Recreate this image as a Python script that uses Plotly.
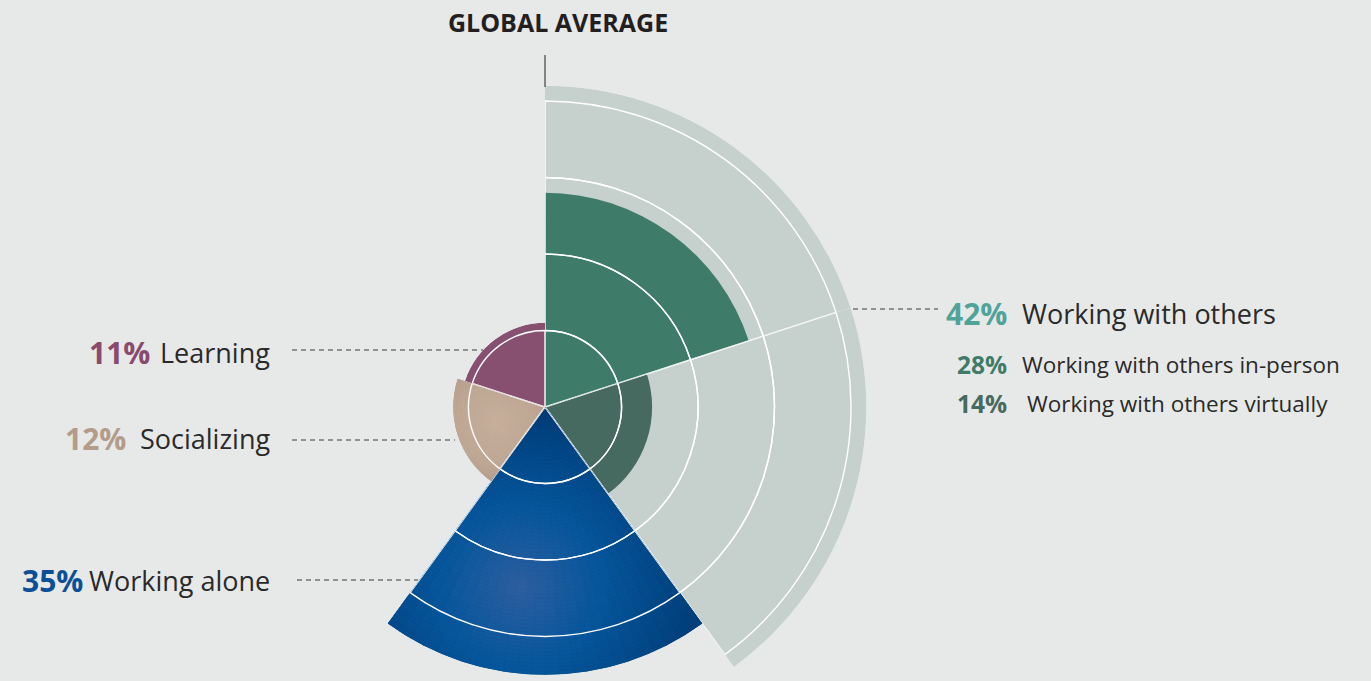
import math
import plotly.graph_objects as go

# ---------------- data ----------------
categories = ["Working with others in-person", "Working with others virtually",
              "Working alone", "Socializing", "Learning"]
shares = [28, 14, 35, 12, 11]
group_label = "Working with others"
group_share = 42
group_members = [0, 1]          # indices of categories belonging to the group
grid_step = 10                  # white guide arcs every 10 %

pct_labels = ["28%", "14%", "35%", "12%", "11%"]
group_pct_label = "42%"
title_text = "GLOBAL AVERAGE"

# ---------------- styles ----------------
fill_colors = ["#3f7b69", "#466a60", "#0b4f92", "#bda692", "#875070"]
pct_colors = ["#3f7b69", "#466a60", "#0b5096", "#b39c8a", "#8a4a6e"]
group_color = "#c6d0cc"
group_pct_color = "#4fa398"
bg = "#e7e9e8"
text_dark = "#2a2a2a"
FONT = "Open Sans"

W, H = 1371, 681
CX, CY = 545, 407        # pixel position of the pole
PX_PER_UNIT = 7.65       # pixels per percentage point

n = len(categories)
sector = 360 / n
thetas = [sector * i + sector / 2 for i in range(n)]


def hex2rgb(h):
    h = h.lstrip("#")
    return [int(h[i:i + 2], 16) for i in (0, 2, 4)]


def ramp(stops, t):
    t = max(0.0, min(1.0, t))
    for (t0, c0), (t1, c1) in zip(stops, stops[1:]):
        if t <= t1:
            f = (t - t0) / (t1 - t0) if t1 > t0 else 0
            a, b = hex2rgb(c0), hex2rgb(c1)
            return "rgb(%d,%d,%d)" % tuple(round(a[k] + (b[k] - a[k]) * f) for k in range(3))
    return "rgb(%d,%d,%d)" % tuple(hex2rgb(stops[-1][1]))


# soft radial shading (styling only) for some sectors:
# index -> (centre r fraction, centre angle offset deg, falloff px, colour stops)
shading = {
    2: (0.68, 8, 175, [(0, "#2e5f9f"), (0.45, "#07569c"), (1, "#013f7a")]),
    3: (0.55, 0, 70, [(0, "#c7af9c"), (0.6, "#bea794"), (1, "#b09a88")]),
}


def sector_bbox(s0, s1):
    """bounding box (unit radius, y up) of a counter-clockwise sector incl. pole"""
    angs = [s0, s1] + [k * 90 for k in range(-8, 9) if s0 < k * 90 < s1]
    xs = [0.0] + [math.cos(math.radians(a)) for a in angs]
    ys = [0.0] + [math.sin(math.radians(a)) for a in angs]
    return min(xs), min(ys), max(xs), max(ys)


fig = go.Figure()
layout_polars = {}

for i in range(n):
    sp = "polar" if i == 0 else "polar%d" % (i + 1)
    in_group = i in group_members
    top = max(shares[i], group_share if in_group else 0)
    rad = top * PX_PER_UNIT
    c0, c1 = thetas[i] - sector / 2, thetas[i] + sector / 2   # compass degrees
    s0, s1 = 90 - c1, 90 - c0                                 # plotly sector
    x0, y0, x1, y1 = sector_bbox(s0, s1)
    layout_polars[sp] = dict(
        sector=[s0, s1],
        domain=dict(x=[(CX + rad * x0) / W, (CX + rad * x1) / W],
                    y=[(H - CY + rad * y0) / H, (H - CY + rad * y1) / H]),
        bgcolor="rgba(0,0,0,0)",
        bargap=0,
        barmode="overlay",
        radialaxis=dict(range=[0, top], visible=False, showgrid=False),
        angularaxis=dict(rotation=90, direction="clockwise", visible=False,
                         showgrid=False),
    )

    # group background
    if in_group:
        fig.add_trace(go.Barpolar(
            r=[group_share], theta=[thetas[i]], width=[sector], subplot=sp,
            marker=dict(color=group_color, line=dict(width=0)),
            text=[group_label], hoverinfo="text", showlegend=False))

    # category sector
    fig.add_trace(go.Barpolar(
        r=[shares[i]], theta=[thetas[i]], width=[sector], subplot=sp,
        marker=dict(color=fill_colors[i], line=dict(width=0)),
        text=[categories[i]], hoverinfo="text", showlegend=False))

    # soft shading cells (styling)
    if i in shading:
        rf, dth, fall, stops = shading[i]
        val = shares[i]
        gc_r = val * rf * PX_PER_UNIT
        gc_a = math.radians(thetas[i] + dth)
        gx, gy = gc_r * math.sin(gc_a), gc_r * math.cos(gc_a)
        nth, dr = 24, 0.5
        dth_cell = sector / nth
        nr = math.ceil(val / dr)
        sr, sb, st, sc = [], [], [], []
        for a in range(nth):
            th = c0 + dth_cell * (a + 0.5)
            for b in range(nr):
                r0 = b * dr
                r1 = min(val, r0 + dr)
                rm = (r0 + r1) / 2 * PX_PER_UNIT
                x, y = rm * math.sin(math.radians(th)), rm * math.cos(math.radians(th))
                d = math.hypot(x - gx, y - gy) / fall
                sr.append(r1 - r0)
                sb.append(r0)
                st.append(th)
                sc.append(ramp(stops, d))
        fig.add_trace(go.Barpolar(
            r=sr, base=sb, theta=st, width=[dth_cell] * len(sr), subplot=sp,
            marker=dict(color=sc, line=dict(color=sc, width=0.8)),
            hoverinfo="skip", showlegend=False))

    # white guide arcs: outline-only cells
    k_max = int(top // grid_step)
    if k_max > 0:
        fig.add_trace(go.Barpolar(
            r=[grid_step] * k_max, base=[k * grid_step for k in range(k_max)],
            theta=[thetas[i]] * k_max, width=[sector] * k_max, subplot=sp,
            marker=dict(color="rgba(0,0,0,0)", line=dict(color="white", width=1.4)),
            hoverinfo="skip", showlegend=False))

    # helper so that outline strokes on the sector edges are not clipped
    fig.add_trace(go.Scatterpolar(r=[0], theta=[thetas[i]], mode="markers", subplot=sp,
                                  marker=dict(size=0, opacity=0), cliponaxis=False,
                                  hoverinfo="skip", showlegend=False))

fig.update_layout(
    width=W, height=H,
    margin=dict(l=0, r=0, t=0, b=0),
    paper_bgcolor=bg, plot_bgcolor=bg,
    **layout_polars,
)


def px(x, y):
    return x / W, 1 - y / H


anns = []


def add_text(x, y, text, size, color, anchor, bold=False):
    xx, yy = px(x, y)
    t = f"<b>{text}</b>" if bold else text
    anns.append(dict(x=xx, y=yy, xref="paper", yref="paper", text=t,
                     showarrow=False, xanchor=anchor, yanchor="middle",
                     borderpad=0, borderwidth=0,
                     font=dict(family=FONT, size=size, color=color)))


# title
add_text(558, 22, title_text, 25, "#231f20", "center", bold=True)

# left labels (Learning, Socializing, Working alone)
left_rows = [(4, 352, 150), (3, 438, 126), (2, 580, 83)]
for idx, y, pct_right in left_rows:
    add_text(270, y, categories[idx], 27, text_dark, "right")
    add_text(pct_right, y, pct_labels[idx], 30, pct_colors[idx], "right", bold=True)

# right labels
add_text(1007, 313, group_pct_label, 30, group_pct_color, "right", bold=True)
add_text(1022, 313, group_label, 27, text_dark, "left")
add_text(1007, 364, pct_labels[0], 24.5, pct_colors[0], "right", bold=True)
add_text(1022, 364, categories[0], 22.5, text_dark, "left")
add_text(1007, 403, pct_labels[1], 24.5, pct_colors[1], "right", bold=True)
add_text(1027, 403, categories[1], 22.5, text_dark, "left")

fig.update_layout(annotations=anns)

shapes = []


def hline(x0, x1, y):
    a0, b0 = px(x0, y)
    a1, _ = px(x1, y)
    shapes.append(dict(type="line", xref="paper", yref="paper", x0=a0, x1=a1,
                       y0=b0, y1=b0, line=dict(color="#3a3a3a", width=1, dash="5px,4px")))


hline(292, 483, 350)
hline(292, 455, 440)
hline(297, 418, 580)
hline(853, 938, 309)
# vertical tick above the chart
a, b0 = px(545, 55)
_, b1 = px(545, 87)
shapes.append(dict(type="line", xref="paper", yref="paper", x0=a, x1=a, y0=b0, y1=b1,
                   line=dict(color="#231f20", width=1)))
fig.update_layout(shapes=shapes)

fig.write_html("out.html",
               config={"displayModeBar": False},
               post_script="document.body.style.margin='0';"
                           "document.body.style.background='%s';" % bg)
